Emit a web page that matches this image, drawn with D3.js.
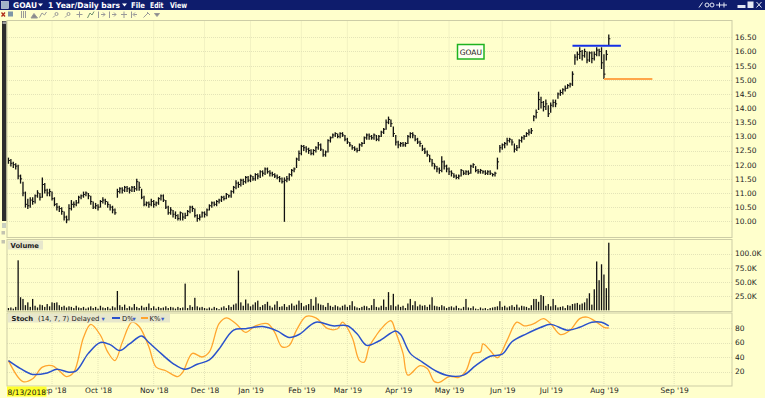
<!DOCTYPE html>
<html>
<head>
<meta charset="utf-8">
<script src="https://cdn.jsdelivr.net/npm/d3@7"></script>
<style>
  body { margin: 0; background: #ffffcc; }
  svg { display: block; font-family: "DejaVu Sans", Verdana, sans-serif; }
</style>
</head>
<body>
<div id="chart"></div>
<script>
// ---- data (bar index 0 = 8/13/2018, first bars start a few sessions earlier) ----
const startIndex = -3;

const closes = [
  12.15, 12.05, 12.0, 11.95, 11.6, 11.5,
  11.0, 10.6, 10.55, 10.75, 10.7, 10.9, 11.0, 10.85,
  11.3, 11.1, 11.0, 11.05, 10.8, 10.6, 10.5, 10.45, 10.35,
  10.15, 10.05, 10.45, 10.6, 10.6, 10.65, 10.85, 10.9, 10.95, 11.0, 10.9,
  10.7, 10.5, 10.55, 10.5, 10.7, 10.75, 10.7, 10.6, 10.5, 10.4, 10.3,
  11.05, 11.15, 11.1, 11.2, 11.15, 11.1, 11.2, 11.15, 11.4, 11.2,
  10.85, 10.6, 10.65, 10.6, 10.7, 10.6, 10.65, 10.8, 10.9, 10.75,
  10.5, 10.3, 10.4, 10.25, 10.2, 10.1, 10.3, 10.15, 10.2,
  10.35, 10.5, 10.45, 10.2, 10.1, 10.15, 10.3, 10.25, 10.4,
  10.55, 10.65, 10.6, 10.7, 10.75, 10.85, 10.8, 10.95, 10.9,
  11.05, 11.2, 11.35, 11.3, 11.45, 11.4, 11.55, 11.45, 11.6, 11.5,
  11.65, 11.6, 11.75, 11.7, 11.85, 11.75, 11.7, 11.65, 11.6, 11.55, 11.5,
  11.4, 11.45, 11.5, 11.65, 11.8, 11.85, 12.2, 12.4, 12.65, 12.6,
  12.55, 12.5, 12.4, 12.5, 12.6, 12.7, 12.55, 12.35, 12.45, 12.85, 12.95,
  13.05, 13.1, 13.0, 13.1, 13.05, 12.9, 12.8, 12.7, 12.6, 12.55, 12.5,
  12.7, 12.75, 12.95, 13.05, 13.0, 12.95, 13.05, 12.9, 13.0, 13.15, 13.25,
  13.5, 13.6, 13.45, 13.1, 12.8, 12.7, 12.75, 12.7, 12.75,
  13.0, 13.1, 13.05, 12.9, 12.8, 12.75, 12.55, 12.45, 12.35, 12.2, 12.05,
  11.95, 11.85, 11.8, 12.1, 11.95, 11.85, 11.75, 11.7, 11.6, 11.55, 11.6,
  11.8, 11.7, 11.75, 11.7, 11.95, 12.0, 11.8, 11.75, 11.8, 11.75, 11.7,
  11.75, 11.7, 11.65, 11.7, 12.1, 12.6, 12.7, 12.75, 12.85, 12.9, 12.8,
  12.55, 12.6, 12.85, 12.95, 13.0, 13.1, 13.15, 13.2, 13.7, 13.85,
  14.3, 14.2, 14.05, 14.15, 13.8, 14.1, 14.2, 14.15, 14.5, 14.55, 14.65,
  14.7, 14.8, 14.85, 15.2, 15.8, 15.9, 16.0, 15.85, 16.0,
  15.7, 15.95, 15.75, 15.9, 16.05, 16.0, 15.6, 15.2, 15.9, 16.45
];

const highs = [
  12.25, 12.2, 12.1, 12.05, 12.0, 11.65,
  11.4, 11.05, 10.8, 10.85, 10.85, 10.95, 11.1, 11.0,
  11.55, 11.35, 11.15, 11.15, 11.05, 10.85, 10.65, 10.55, 10.5,
  10.35, 10.2, 10.6, 10.75, 10.7, 10.75, 10.9, 10.95, 11.05, 11.05, 11.0,
  10.9, 10.7, 10.65, 10.6, 10.75, 10.85, 10.8, 10.7, 10.6, 10.55, 10.45,
  11.15, 11.2, 11.2, 11.25, 11.25, 11.2, 11.25, 11.25, 11.5, 11.4,
  11.15, 10.9, 10.7, 10.7, 10.8, 10.75, 10.7, 10.85, 10.95, 10.95,
  10.75, 10.55, 10.5, 10.4, 10.35, 10.25, 10.35, 10.3, 10.3,
  10.4, 10.55, 10.55, 10.45, 10.25, 10.25, 10.35, 10.35, 10.45,
  10.6, 10.7, 10.7, 10.75, 10.8, 10.9, 10.9, 11.0, 10.95,
  11.1, 11.25, 11.45, 11.4, 11.5, 11.5, 11.6, 11.6, 11.65, 11.6,
  11.7, 11.7, 11.8, 11.8, 11.9, 11.9, 11.8, 11.75, 11.7, 11.65, 11.6,
  11.55, 11.55, 11.6, 11.7, 11.85, 11.9, 12.25, 12.5, 12.7, 12.7,
  12.65, 12.6, 12.55, 12.55, 12.65, 12.8, 12.75, 12.55, 12.5, 12.9, 13.0,
  13.1, 13.15, 13.1, 13.15, 13.15, 13.05, 12.95, 12.8, 12.7, 12.65, 12.6,
  12.75, 12.8, 13.0, 13.1, 13.1, 13.05, 13.1, 13.05, 13.05, 13.2, 13.3,
  13.6, 13.7, 13.6, 13.35, 13.05, 12.85, 12.8, 12.8, 12.8,
  13.05, 13.15, 13.15, 13.05, 12.95, 12.85, 12.7, 12.6, 12.5, 12.35, 12.2,
  12.05, 11.95, 11.9, 12.3, 12.15, 12.0, 11.9, 11.8, 11.7, 11.65, 11.65,
  11.85, 11.8, 11.8, 11.8, 12.0, 12.05, 11.95, 11.85, 11.85, 11.8, 11.8,
  11.8, 11.8, 11.7, 11.75, 12.25, 12.7, 12.75, 12.8, 12.95, 12.95, 12.9,
  12.75, 12.7, 12.9, 13.0, 13.05, 13.15, 13.25, 13.3, 13.75, 13.95,
  14.58, 14.4, 14.25, 14.3, 14.1, 14.2, 14.3, 14.3, 14.55, 14.65, 14.7,
  14.8, 14.85, 14.9, 15.3, 15.9, 16.0, 16.15, 16.05, 16.1,
  16.0, 16.0, 16.0, 16.0, 16.15, 16.1, 16.15, 15.9, 16.05, 16.6
];

const lows = [
  12.05, 11.95, 11.9, 11.85, 11.5, 11.35,
  10.9, 10.5, 10.45, 10.5, 10.6, 10.65, 10.85, 10.75,
  10.85, 11.0, 10.9, 10.9, 10.75, 10.55, 10.4, 10.35, 10.25,
  10.05, 9.95, 10.05, 10.4, 10.5, 10.55, 10.65, 10.8, 10.85, 10.9, 10.8,
  10.6, 10.45, 10.45, 10.4, 10.5, 10.65, 10.6, 10.5, 10.4, 10.3, 10.25,
  10.85, 11.0, 11.0, 11.05, 11.05, 11.0, 11.05, 11.05, 11.1, 11.1,
  10.8, 10.55, 10.55, 10.5, 10.55, 10.5, 10.55, 10.6, 10.75, 10.7,
  10.45, 10.25, 10.25, 10.15, 10.1, 10.05, 10.05, 10.05, 10.1,
  10.2, 10.3, 10.35, 10.15, 10.0, 10.05, 10.15, 10.15, 10.2,
  10.4, 10.5, 10.55, 10.55, 10.65, 10.7, 10.75, 10.8, 10.85,
  10.85, 11.0, 11.15, 11.2, 11.25, 11.3, 11.35, 11.4, 11.4, 11.45,
  11.45, 11.5, 11.55, 11.6, 11.65, 11.7, 11.6, 11.6, 11.55, 11.5, 11.4,
  11.35, 10.0, 11.4, 11.45, 11.6, 11.75, 11.9, 12.15, 12.35, 12.5,
  12.45, 12.4, 12.35, 12.35, 12.45, 12.55, 12.5, 12.3, 12.3, 12.45, 12.8,
  12.95, 13.0, 12.95, 12.95, 13.0, 12.85, 12.75, 12.65, 12.55, 12.5, 12.45,
  12.5, 12.65, 12.75, 12.9, 12.9, 12.9, 12.9, 12.85, 12.85, 13.0, 13.1,
  13.25, 13.45, 13.35, 13.0, 12.7, 12.6, 12.65, 12.65, 12.65,
  12.75, 12.95, 12.95, 12.85, 12.75, 12.65, 12.5, 12.4, 12.3, 12.1, 11.95,
  11.85, 11.75, 11.7, 11.75, 11.85, 11.75, 11.65, 11.6, 11.55, 11.5, 11.5,
  11.6, 11.65, 11.65, 11.65, 11.7, 11.9, 11.75, 11.7, 11.7, 11.7, 11.65,
  11.65, 11.65, 11.6, 11.6, 11.85, 12.45, 12.55, 12.6, 12.7, 12.8, 12.7,
  12.45, 12.5, 12.6, 12.8, 12.9, 13.0, 13.05, 13.1, 13.55, 13.65,
  13.95, 14.0, 13.9, 13.95, 13.7, 13.85, 14.05, 14.05, 14.35, 14.45, 14.5,
  14.6, 14.7, 14.75, 14.8, 15.55, 15.7, 15.75, 15.7, 15.8,
  15.6, 15.65, 15.6, 15.7, 15.85, 15.85, 15.4, 15.05, 15.7, 16.25
];

// volume in thousands
const volumes = [
  4, 5, 3, 6, 88, 23,
  20, 9, 14, 6, 20, 8, 5, 10,
  9, 6, 11, 7, 14, 13, 14, 9, 6,
  8, 5, 7, 6, 4, 8, 5, 4, 6, 3, 5,
  7, 4, 6, 3, 8, 5, 4, 6, 3, 7, 5,
  34, 9, 6, 10, 4, 7, 5, 11, 6, 4,
  8, 5, 6, 12, 4, 7, 3, 6, 4, 5,
  7, 4, 6, 5, 3, 6, 4, 5, 47,
  4, 9, 6, 22, 7, 5, 6, 4, 3,
  5, 3, 6, 4, 2, 5, 7, 4, 9,
  6, 10, 12, 70, 14, 8, 19, 12, 7, 10,
  14, 17, 6, 9, 11, 15, 8, 5, 10, 16, 6,
  7, 11, 6, 9, 12, 8, 10, 17, 13, 7,
  9, 11, 20, 8, 23, 12, 10, 9, 6, 13, 8,
  6, 9, 7, 5, 8, 10, 6, 9, 16, 7, 5,
  4, 6, 8, 7, 4, 9, 20, 6, 5, 8, 19,
  6, 32, 9, 29, 7, 10, 6, 8, 4,
  12, 20, 9, 16, 7, 10, 8, 9, 6, 10, 23,
  8, 7, 6, 9, 7, 4, 6, 7, 5, 8, 4,
  3, 6, 20, 5, 4, 7, 3, 2, 5, 3, 4,
  2, 4, 5, 6, 7, 16, 6, 8, 5, 7, 9,
  6, 10, 5, 8, 7, 6, 4, 9, 20, 20,
  15, 27, 25, 8, 11, 7, 20, 9, 5, 6, 7,
  4, 9, 8, 11, 12, 13, 10, 12, 14,
  21, 30, 10, 37, 86, 53, 81, 63, 39, 119
];

// slow stochastic (14,7,7), read at sample bars
const dIdx  = [-3, 2, 7, 13, 17, 22, 25, 30, 35, 39, 43, 47, 52, 55, 60, 65, 70, 75, 80, 84, 90, 95, 102, 108, 113, 117, 124, 131, 137, 141, 145, 150, 157, 159, 163, 168, 174, 179, 185, 190, 196, 201, 205, 211, 217, 221, 228, 233, 238, 242, 245];
const dVals = [35, 24, 16, 18, 23, 19, 21, 45, 60, 57, 49, 58, 69, 60, 45, 31, 23, 30, 36, 51, 77, 79, 82, 76, 67, 71, 88, 83, 83, 72, 56, 62, 76, 71, 45, 33, 20, 14, 15, 28, 41, 44, 61, 72, 81, 85, 77, 81, 88, 88, 83];
const kIdx  = [-3, 3, 7, 11, 15, 18, 21, 24, 28, 31, 35, 38, 41, 44, 48, 51, 55, 58, 62, 67, 69, 73, 77, 80, 84, 87, 91, 95, 99, 104, 107, 110, 113, 116, 120, 124, 129, 133, 135, 139, 142, 144, 146, 149, 151, 155, 157, 160, 162, 167, 170, 173, 175, 179, 183, 186, 189, 192, 193, 196, 199, 203, 207, 210, 214, 218, 221, 225, 229, 233, 236, 240, 243, 245];
const kVals = [35, 6, 10, 26, 28, 21, 13, 19, 67, 85, 70, 47, 35, 60, 88, 82, 54, 26, 21, 13, 19, 45, 40, 47, 86, 94, 86, 74, 83, 86, 74, 54, 56, 77, 96, 94, 79, 79, 88, 67, 35, 33, 54, 70, 79, 90, 74, 45, 15, 28, 24, 6, 5, 13, 12, 21, 45, 47, 58, 49, 39, 63, 88, 83, 86, 93, 86, 71, 77, 93, 95, 88, 81, 80];

// axis labels
const monthLabels = ["Sep '18", "Oct '18", "Nov '18", "Dec '18", "Jan '19", "Feb '19", "Mar '19", "Apr '19", "May '19", "Jun '19", "Jul '19", "Aug '19", "Sep '19"];
const monthIdx    = [15, 34, 57, 78, 97, 118, 137, 158, 179, 201, 221, 243, 272];
const priceTicks  = [10, 10.5, 11, 11.5, 12, 12.5, 13, 13.5, 14, 14.5, 15, 15.5, 16, 16.5];
const volTicks    = [25, 50, 75, 100];
const stochTicks  = [20, 40, 60, 80];

// drawn trend lines: [fromBar, toBar, price]
const levelFrom  = [230, 243];
const levelTo    = [250, 263];
const levelPrice = [16.2, 15.03];

// ---- layout ----
const width = 765, height = 398;
const plotL = 7, plotR = 732;
const pricePanel = { top: 20.5, bottom: 237.5 };
const volPanel   = { top: 239.5, bottom: 311.5 };
const stochPanel = { top: 313, bottom: 386 };
const bg = '#ffffcc', grid = '#e4e4b8', frame = '#cdcda6';

const svg = d3.select('#chart').append('svg')
  .attr('width', width).attr('height', height);

svg.append('rect').attr('width', width).attr('height', height).attr('fill', bg);

// scales
const x = d3.scaleLinear().domain([-3.6, 295.9]).range([plotL, plotR]);
const yPrice = d3.scaleLinear().domain([10, 16.5]).range([221.3, 37.35]);
const yVol = d3.scaleLinear().domain([0, 100]).range([310.3, 253.5]);
const yStoch = d3.scaleLinear().domain([0, 100]).range([386, 313.5]);

const bars = closes.map((c, k) => ({
  i: startIndex + k, close: c, high: highs[k], low: lows[k], vol: volumes[k]
}));

// ---- title bar ----
svg.append('rect').attr('x', 0).attr('y', 0).attr('width', width).attr('height', 10).attr('fill', '#0e1c6c');
svg.append('rect').attr('x', 1.5).attr('y', 1.5).attr('width', 7).attr('height', 7)
  .attr('fill', '#9fb4c8').attr('stroke', '#dfe8f0').attr('stroke-width', 0.6);
const titleItems = [
  { t: 'GOAU', x: 13, w: 24 }, { t: '1 Year/Daily bars', x: 48, w: 72 },
  { t: 'File', x: 131, w: 14 }, { t: 'Edit', x: 150, w: 13.5 }, { t: 'View', x: 170, w: 17 }
];
svg.append('g').selectAll('text').data(titleItems).join('text')
  .attr('x', d => d.x).attr('y', 8)
  .attr('fill', '#ffffff').attr('font-size', '7.8px').attr('font-weight', 'bold')
  .attr('textLength', d => d.w).attr('lengthAdjust', 'spacingAndGlyphs')
  .text(d => d.t);
// dropdown arrows in the title bar
svg.append('g').selectAll('path').data([40.5, 124.5]).join('path')
  .attr('d', d => `M${d - 2.5},3.5 L${d + 2.5},3.5 L${d},6.5 Z`).attr('fill', '#ffffff');

// window buttons on the right
const wb = svg.append('g').attr('stroke', '#e4e8f4').attr('fill', 'none').attr('stroke-width', 1);
wb.append('line').attr('x1', 699).attr('y1', 7.5).attr('x2', 702.5).attr('y2', 2.5);
wb.append('circle').attr('cx', 707).attr('cy', 5).attr('r', 2);
wb.append('circle').attr('cx', 712).attr('cy', 5).attr('r', 2);
wb.append('line').attr('x1', 716).attr('y1', 5).attr('x2', 727).attr('y2', 5);
wb.append('line').attr('x1', 719.5).attr('y1', 2.5).attr('x2', 719.5).attr('y2', 7.5);
wb.append('line').attr('x1', 724).attr('y1', 2.5).attr('x2', 724).attr('y2', 7.5);
wb.append('rect').attr('x', 738).attr('y', 5.5).attr('width', 7).attr('height', 2).attr('fill', '#e4e8f4');
wb.append('rect').attr('x', 748).attr('y', 2).attr('width', 5).attr('height', 5.5).attr('fill', '#e4e8f4');
wb.append('line').attr('x1', 756.5).attr('y1', 2).attr('x2', 761.5).attr('y2', 7.5);
wb.append('line').attr('x1', 761.5).attr('y1', 2).attr('x2', 756.5).attr('y2', 7.5);

// ---- toolbar ----
const tb = svg.append('g').attr('stroke', '#9a9a9a').attr('fill', 'none').attr('stroke-width', 1);
svg.append('path').attr('d', 'M1.5,12.5 L5,16.5 M5,12.5 L1.5,16.5').attr('stroke', '#b02a1a').attr('stroke-width', 1.3);
svg.append('rect').attr('x', 8).attr('y', 11.5).attr('width', 5).attr('height', 5).attr('fill', '#7f96a8');
tb.append('path').attr('d', 'M21.5,11 V18 M23.5,11 V18 M25.5,11 V18');
tb.append('path').attr('d', 'M31,18 L34,13.5 L37.5,18 Z').attr('fill', '#8a8a8a');
tb.append('path').attr('d', 'M39.5,17.5 L42,13 L44.5,15 L46.5,12');
tb.append('path').attr('d', 'M53,17.5 L55,15.5 M56.5,14 m-1.5,0 a1.5,1.5 0 1,0 3,0 a1.5,1.5 0 1,0 -3,0');
tb.append('path').attr('d', 'M65,17.5 L67,15.5 M68.5,14 m-1.5,0 a1.5,1.5 0 1,0 3,0 a1.5,1.5 0 1,0 -3,0');
tb.append('path').attr('d', 'M79.5,11.5 V17.5 M76.5,14.5 H82.5');
tb.append('path').attr('d', 'M87.5,18 L90,13 L92,15 L94,11.5').attr('stroke', '#6e8f6e');
tb.append('path').attr('d', 'M98.5,11.5 V18 M101,14.5 H105 M103,12.5 L105,14.5 L103,16.5');
tb.append('path').attr('d', 'M109.5,11.5 V18 M112,14.5 H116 M114,12.5 L116,14.5 L114,16.5');
tb.append('path').attr('d', 'M124,11.5 V18 M121,14.5 H127');
tb.append('path').attr('d', 'M131.5,11.5 V18 M137,14.5 H133.5 M135,12.5 L133,14.5 L135,16.5');
tb.append('path').attr('d', 'M143.5,17.5 L148,13 M147,12 L150,15');
tb.append('path').attr('d', 'M154.5,13.5 L159.5,13.5 L157,16.5 Z').attr('fill', '#8a8a8a');

// left scroll strip
svg.append('rect').attr('x', 2).attr('y', 21).attr('width', 4.5).attr('height', 200).attr('fill', '#2d2d2d');
svg.append('rect').attr('x', 2.5).attr('y', 21.5).attr('width', 3.5).attr('height', 2.5).attr('fill', '#9a9a9a');
svg.append('rect').attr('x', 2).attr('y', 223).attr('width', 4).attr('height', 5).attr('fill', '#c9cfc0');
svg.append('rect').attr('x', 1.5).attr('y', 231).attr('width', 3.5).attr('height', 3.5).attr('fill', '#c4c4b0');
svg.append('rect').attr('x', 1.5).attr('y', 240).attr('width', 3.5).attr('height', 3.5).attr('fill', '#c4c4b0');

// ---- panel frames and grid ----
const panels = [pricePanel, volPanel, stochPanel];
panels.forEach(p => {
  svg.append('g').selectAll('line').data(monthIdx).join('line')
    .attr('x1', d => x(d)).attr('x2', d => x(d))
    .attr('y1', p.top).attr('y2', p.bottom)
    .attr('stroke', grid).attr('stroke-width', 1).attr('stroke-dasharray', '1,1');
});

function hGrid(ticks, scale) {
  svg.append('g').selectAll('line').data(ticks).join('line')
    .attr('x1', plotL).attr('x2', plotR)
    .attr('y1', d => Math.round(scale(d)) + 0.5).attr('y2', d => Math.round(scale(d)) + 0.5)
    .attr('stroke', grid).attr('stroke-width', 1).attr('stroke-dasharray', '1,1');
}
hGrid(priceTicks, yPrice);
hGrid(volTicks, yVol);
hGrid(stochTicks, yStoch);

panels.forEach(p => {
  svg.append('rect').attr('x', plotL).attr('y', p.top)
    .attr('width', plotR - plotL).attr('height', p.bottom - p.top)
    .attr('fill', 'none').attr('stroke', frame).attr('stroke-width', 1);
});

// ---- axes ----
function rightAxis(scale, ticks, fmt) {
  const g = svg.append('g').attr('transform', `translate(${plotR},0)`)
    .call(d3.axisRight(scale).tickValues(ticks).tickFormat(fmt).tickSize(0).tickPadding(3));
  g.select('.domain').remove();
  g.selectAll('text').attr('font-size', '7.5px').attr('fill', '#1e1e1e')
    .attr('font-family', '"DejaVu Sans", Verdana, sans-serif');
}
rightAxis(yPrice, priceTicks, d3.format('.2f'));
rightAxis(yVol, volTicks, d => d.toFixed(1) + 'K');
rightAxis(yStoch, stochTicks, d3.format('d'));

// the first month label sits under the start-date flag; only its tail shows
// (clip box is in the axis group's own coordinates)
svg.append('clipPath').attr('id', 'xclip').append('rect')
  .attr('x', 46.5).attr('y', -2).attr('width', 720).attr('height', 14);
const xAxis = svg.append('g').attr('transform', `translate(0,${stochPanel.bottom})`)
  .attr('clip-path', 'url(#xclip)')
  .call(d3.axisBottom(x).tickValues(monthIdx).tickFormat((d, i) => monthLabels[i]).tickSize(0).tickPadding(2));
xAxis.select('.domain').remove();
xAxis.selectAll('text').attr('font-size', '7.5px').attr('fill', '#1e1e1e')
  .attr('font-family', '"DejaVu Sans", Verdana, sans-serif');

// start date flag
svg.append('rect').attr('x', 7).attr('y', 386.5).attr('width', 39.5).attr('height', 10).attr('fill', '#ffff2e');
svg.append('text').attr('x', 7.5).attr('y', 394.5).attr('font-size', '7.5px').attr('fill', '#111').text('8/13/2018');

// ---- price bars ----
const priceG = svg.append('g').attr('stroke', '#111').attr('stroke-width', 1.3);
priceG.selectAll('.hl').data(bars).join('line').attr('class', 'hl')
  .attr('x1', d => x(d.i)).attr('x2', d => x(d.i))
  .attr('y1', d => yPrice(d.high)).attr('y2', d => yPrice(d.low) + 0.5);
priceG.selectAll('.cl').data(bars).join('line').attr('class', 'cl')
  .attr('x1', d => x(d.i)).attr('x2', d => x(d.i) + 1.6)
  .attr('y1', d => yPrice(d.close)).attr('y2', d => yPrice(d.close))
  .attr('stroke-width', 1);

// drawn levels
const levelColors = ['#1530e6', '#ffa64a'];
svg.append('g').selectAll('line').data(levelPrice).join('line')
  .attr('x1', (d, j) => x(levelFrom[j])).attr('x2', (d, j) => x(levelTo[j]))
  .attr('y1', d => yPrice(d)).attr('y2', d => yPrice(d))
  .attr('stroke', (d, j) => levelColors[j]).attr('stroke-width', 2);

// symbol label
svg.append('rect').attr('x', 457.5).attr('y', 44.5).attr('width', 26.5).attr('height', 14.5)
  .attr('fill', '#fffff2').attr('stroke', '#1fb31f').attr('stroke-width', 1.5);
svg.append('text').attr('x', 470.8).attr('y', 54.6).attr('text-anchor', 'middle')
  .attr('font-size', '7.5px').attr('fill', '#111').text('GOAU');

// ---- volume ----
svg.append('g').selectAll('rect').data(bars).join('rect')
  .attr('x', d => x(d.i) - 0.65).attr('width', 1.3)
  .attr('y', d => yVol(d.vol)).attr('height', d => yVol(0) - yVol(d.vol))
  .attr('fill', '#111');

svg.append('rect').attr('x', 8).attr('y', 240.5).attr('width', 35).attr('height', 9).attr('fill', '#e7e7cc');
svg.append('text').attr('x', 10.5).attr('y', 248).attr('font-size', '6.8px').attr('font-weight', 'bold')
  .attr('fill', '#222').text('Volume');

// ---- stochastics ----
const dSeries = dIdx.map((i, j) => ({ i, v: dVals[j] }));
const kSeries = kIdx.map((i, j) => ({ i, v: kVals[j] }));
const stochLine = d3.line().x(d => x(d.i)).y(d => yStoch(d.v)).curve(d3.curveCatmullRom.alpha(0.5));

svg.append('path').datum(kSeries).attr('d', stochLine)
  .attr('fill', 'none').attr('stroke', '#ffa52e').attr('stroke-width', 1.3);
svg.append('path').datum(dSeries).attr('d', stochLine)
  .attr('fill', 'none').attr('stroke', '#2a52cc').attr('stroke-width', 1.5);

const legend = svg.append('g');
legend.append('rect').attr('x', 8).attr('y', 313.5).attr('width', 162).attr('height', 9).attr('fill', '#e7e7cc');
legend.append('text').attr('x', 11.5).attr('y', 321).attr('font-size', '6.8px').attr('font-weight', 'bold')
  .attr('fill', '#222').text('Stoch');
legend.append('text').attr('x', 38).attr('y', 321).attr('font-size', '6.8px').attr('fill', '#222')
  .text('(14, 7, 7) Delayed');
legend.append('text').attr('x', 101.5).attr('y', 321).attr('font-size', '6.5px').attr('fill', '#3a5cc8').text('\u25BE');
legend.append('line').attr('x1', 112).attr('x2', 120).attr('y1', 318).attr('y2', 318)
  .attr('stroke', '#2a52cc').attr('stroke-width', 2);
legend.append('text').attr('x', 122).attr('y', 321).attr('font-size', '6.8px').attr('fill', '#222').text('D%');
legend.append('text').attr('x', 132.5).attr('y', 321).attr('font-size', '6.5px').attr('fill', '#3a5cc8').text('\u25BE');
legend.append('line').attr('x1', 141).attr('x2', 148).attr('y1', 318).attr('y2', 318)
  .attr('stroke', '#ffa52e').attr('stroke-width', 2);
legend.append('text').attr('x', 149.5).attr('y', 321).attr('font-size', '6.8px').attr('fill', '#222').text('K%');
legend.append('text').attr('x', 161).attr('y', 321).attr('font-size', '6.5px').attr('fill', '#3a5cc8').text('\u25BE');
</script>
</body>
</html>
